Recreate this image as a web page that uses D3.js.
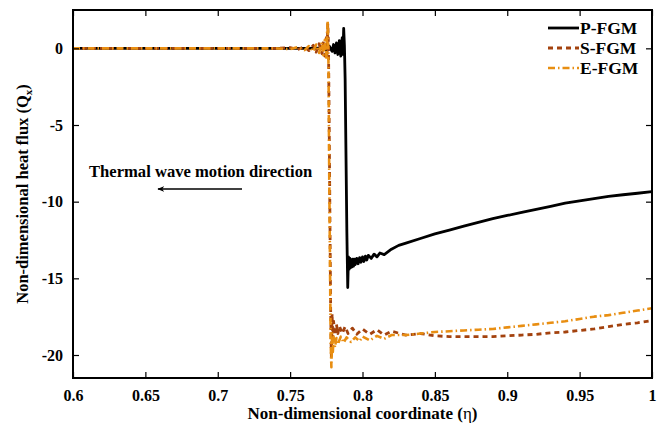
<!DOCTYPE html>
<html><head><meta charset="utf-8">
<script src="https://cdn.jsdelivr.net/npm/d3@7"></script>
<style>body{margin:0;background:#fff}svg{display:block}text{font-family:"Liberation Serif","Times New Roman",serif;font-weight:bold}</style>
</head><body>
<script>
const xTicks = [0.6,0.65,0.7,0.75,0.8,0.85,0.9,0.95,1];
const xTickLabels = ["0.6","0.65","0.7","0.75","0.8","0.85","0.9","0.95","1"];
const yTicks = [0,-5,-10,-15,-20];
const yTickLabels = ["0","-5","-10","-15","-20"];
const seriesNames = ["P-FGM","S-FGM","E-FGM"];

const pFGM = [[0.6,0],[0.7,0],[0.76,0],[0.772,0.02],[0.775,-0.1],[0.777,0.15],[0.779,-0.2],[0.780,0.25],[0.781,-0.3],[0.782,0.35],[0.783,-0.4],[0.784,0.5],[0.785,-0.5],[0.786,0.7],[0.7865,-0.4],[0.787,1.3],[0.7875,0.2],[0.788,-2],[0.7892,-12],[0.7898,-15.6],[0.7903,-13.6],[0.7908,-14.4],[0.7913,-13.7],[0.7918,-14.3],[0.7923,-13.8],[0.7928,-14.25],[0.7933,-13.75],[0.7938,-14.2],[0.7943,-13.75],[0.795,-14.1],[0.796,-13.7],[0.797,-14.05],[0.798,-13.65],[0.799,-13.95],[0.800,-13.6],[0.801,-13.9],[0.802,-13.55],[0.803,-13.8],[0.804,-13.5],[0.806,-13.7],[0.808,-13.42],[0.810,-13.6],[0.812,-13.35],[0.815,-13.45],[0.82,-13.1],[0.825,-12.85],[0.83,-12.7],[0.84,-12.4],[0.85,-12.1],[0.86,-11.85],[0.87,-11.6],[0.88,-11.35],[0.89,-11.1],[0.9,-10.9],[0.91,-10.7],[0.92,-10.5],[0.93,-10.3],[0.94,-10.1],[0.95,-9.95],[0.96,-9.8],[0.97,-9.65],[0.98,-9.55],[0.99,-9.45],[1.0,-9.35]];

const sFGM = [[0.6,0],[0.74,0],[0.75,0.05],[0.755,-0.08],[0.76,0.1],[0.763,-0.15],[0.766,0.2],[0.768,-0.25],[0.770,0.3],[0.772,-0.35],[0.773,0.45],[0.774,-0.5],[0.775,0.7],[0.7755,-0.4],[0.776,1.6],[0.7765,0.3],[0.777,-5],[0.778,-17],[0.7785,-20.2],[0.779,-17.3],[0.7795,-18.9],[0.780,-17.8],[0.781,-18.7],[0.782,-18.0],[0.783,-18.6],[0.784,-18.1],[0.786,-18.6],[0.788,-18.15],[0.790,-18.6],[0.793,-18.25],[0.796,-18.65],[0.80,-18.3],[0.805,-18.65],[0.81,-18.35],[0.815,-18.7],[0.82,-18.45],[0.83,-18.7],[0.84,-18.6],[0.85,-18.75],[0.86,-18.8],[0.87,-18.8],[0.88,-18.8],[0.89,-18.8],[0.9,-18.75],[0.91,-18.7],[0.92,-18.65],[0.93,-18.55],[0.94,-18.5],[0.95,-18.4],[0.96,-18.3],[0.97,-18.15],[0.98,-18.0],[0.99,-17.9],[1.0,-17.75]];

const eFGM = [[0.6,0],[0.74,0],[0.75,-0.05],[0.755,0.08],[0.76,-0.12],[0.763,0.15],[0.766,-0.2],[0.768,0.25],[0.770,-0.3],[0.772,0.4],[0.773,-0.45],[0.774,0.55],[0.775,-0.6],[0.7755,0.9],[0.776,1.78],[0.7765,-1],[0.777,-8],[0.778,-19],[0.7785,-20.8],[0.779,-18.6],[0.7795,-19.8],[0.780,-18.8],[0.781,-19.5],[0.782,-18.9],[0.783,-19.3],[0.785,-18.8],[0.787,-19.2],[0.789,-18.85],[0.792,-19.15],[0.795,-18.85],[0.798,-19.1],[0.80,-18.8],[0.805,-19.05],[0.81,-18.75],[0.815,-18.95],[0.82,-18.7],[0.83,-18.7],[0.84,-18.6],[0.85,-18.5],[0.86,-18.45],[0.87,-18.4],[0.88,-18.35],[0.89,-18.3],[0.9,-18.2],[0.91,-18.1],[0.92,-18.0],[0.93,-17.9],[0.94,-17.8],[0.95,-17.65],[0.96,-17.5],[0.97,-17.4],[0.98,-17.25],[0.99,-17.1],[1.0,-16.95]];

const W = 662, H = 426;
const m = {left:73, right:10, top:10, bottom:48};
const svg = d3.select("body").append("svg").attr("width",W).attr("height",H);
const x = d3.scaleLinear().domain([0.6,1]).range([m.left, W-m.right]);
const y = d3.scaleLinear().domain([-21.5,2.5]).range([H-m.bottom, m.top]);

const styles = [
  {data:pFGM, color:"#000000", width:2.8, dash:null},
  {data:sFGM, color:"#a3420e", width:2.8, dash:"5,4"},
  {data:eFGM, color:"#e88e12", width:2.6, dash:"7,3,1.5,3"}
];
const line = d3.line().x(d=>x(d[0])).y(d=>y(d[1]));
svg.append("clipPath").attr("id","c").append("rect")
  .attr("x",m.left).attr("y",m.top).attr("width",W-m.left-m.right).attr("height",H-m.top-m.bottom);
const g = svg.append("g").attr("clip-path","url(#c)");
styles.forEach(s=>{
  g.append("path").datum(s.data).attr("d",line).attr("fill","none")
   .attr("stroke",s.color).attr("stroke-width",s.width)
   .attr("stroke-dasharray",s.dash).attr("stroke-linejoin","round");
});

const ax = svg.append("g").attr("transform",`translate(0,${H-m.bottom})`)
  .call(d3.axisBottom(x).tickValues(xTicks).tickFormat((d,i)=>xTickLabels[i]).tickSizeInner(-6).tickSizeOuter(0).tickPadding(12));
const axT = svg.append("g").attr("transform",`translate(0,${m.top})`)
  .call(d3.axisTop(x).tickValues(xTicks).tickFormat("").tickSizeInner(-6).tickSizeOuter(0));
const ay = svg.append("g").attr("transform",`translate(${m.left},0)`)
  .call(d3.axisLeft(y).tickValues(yTicks).tickFormat((d,i)=>yTickLabels[i]).tickSizeInner(-6).tickSizeOuter(0).tickPadding(10));
const ayR = svg.append("g").attr("transform",`translate(${W-m.right},0)`)
  .call(d3.axisRight(y).tickValues(yTicks).tickFormat("").tickSizeInner(-6).tickSizeOuter(0));
[ax,axT,ay,ayR].forEach(a=>{
  a.select(".domain").remove();
  a.selectAll(".tick line").attr("stroke","#000").attr("stroke-width",1.2);
  a.selectAll("text").attr("font-size",16).attr("fill","#000")
   .attr("font-family",'"Liberation Serif","Times New Roman",serif').attr("font-weight","bold");
});
svg.append("rect").attr("x",m.left).attr("y",m.top).attr("width",W-m.left-m.right).attr("height",H-m.top-m.bottom)
  .attr("fill","none").attr("stroke","#000").attr("stroke-width",2);

const xt = svg.append("text").attr("x",(m.left+W-m.right)/2).attr("y",419).attr("text-anchor","middle").attr("font-size",17);
xt.append("tspan").text("Non-dimensional coordinate (");
xt.append("tspan").attr("font-weight","normal").text("η");
xt.append("tspan").text(")");
const yt = svg.append("text").attr("transform",`translate(28,${(m.top+H-m.bottom)/2}) rotate(-90)`).attr("text-anchor","middle").attr("font-size",16.5);
yt.append("tspan").text("Non-dimensional heat flux (Q");
yt.append("tspan").attr("font-size",11).attr("dy",4).text("x");
yt.append("tspan").attr("dy",-4).text(")");

const lg = svg.append("g");
styles.forEach((s,i)=>{
  const yy = 28 + i*20;
  lg.append("line").attr("x1",548).attr("x2",579).attr("y1",yy).attr("y2",yy)
    .attr("stroke",s.color).attr("stroke-width",s.width).attr("stroke-dasharray",s.dash);
  lg.append("text").attr("x",580).attr("y",yy+5.5).attr("font-size",17.5).text(seriesNames[i]);
});

svg.append("text").attr("x",89).attr("y",177).attr("font-size",16.6).text("Thermal wave motion direction");
svg.append("defs").append("marker").attr("id","ah").attr("viewBox","0 0 10 10").attr("refX",9).attr("refY",5)
  .attr("markerWidth",7).attr("markerHeight",7).attr("markerUnits","userSpaceOnUse").attr("orient","auto")
  .append("path").attr("d","M0,1 L10,5 L0,9 L3,5 Z").attr("fill","#000");
svg.append("line").attr("x1",242).attr("x2",158).attr("y1",189).attr("y2",189)
  .attr("stroke","#000").attr("stroke-width",1.3).attr("marker-end","url(#ah)");
</script>
</body></html>
